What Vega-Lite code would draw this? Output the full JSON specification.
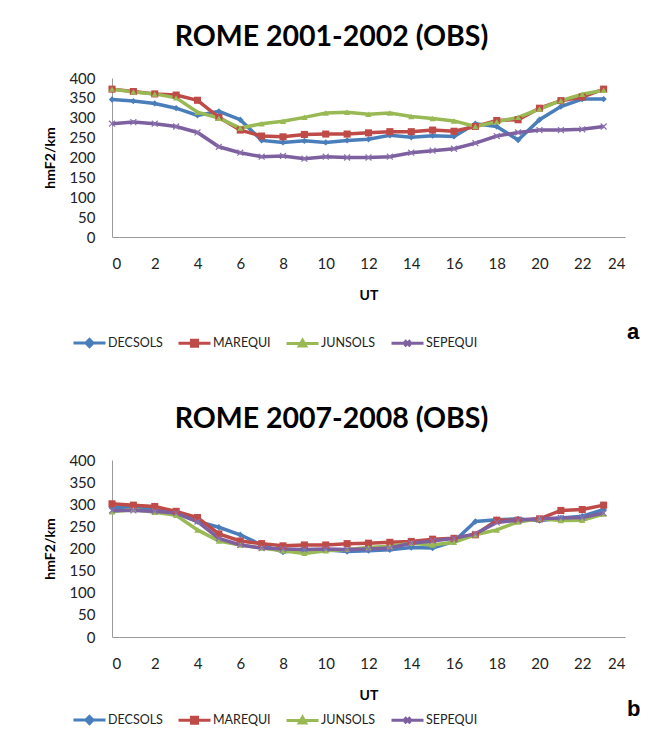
{
  "$schema": "https://vega.github.io/schema/vega-lite/v6.json",
  "background": "white",
  "padding": {"left": 43, "top": 22, "right": 5, "bottom": 5},
  "datasets": {
    "obs0102": [
      {"UT": 0, "DECSOLS": 346, "MAREQUI": 372, "JUNSOLS": 372, "SEPEQUI": 285},
      {"UT": 1, "DECSOLS": 342, "MAREQUI": 366, "JUNSOLS": 365, "SEPEQUI": 289},
      {"UT": 2, "DECSOLS": 336, "MAREQUI": 360, "JUNSOLS": 360, "SEPEQUI": 285},
      {"UT": 3, "DECSOLS": 324, "MAREQUI": 357, "JUNSOLS": 350, "SEPEQUI": 278},
      {"UT": 4, "DECSOLS": 306, "MAREQUI": 344, "JUNSOLS": 314, "SEPEQUI": 263},
      {"UT": 5, "DECSOLS": 316, "MAREQUI": 301, "JUNSOLS": 299, "SEPEQUI": 227},
      {"UT": 6, "DECSOLS": 295, "MAREQUI": 269, "JUNSOLS": 274, "SEPEQUI": 212},
      {"UT": 7, "DECSOLS": 243, "MAREQUI": 254, "JUNSOLS": 285, "SEPEQUI": 202},
      {"UT": 8, "DECSOLS": 238, "MAREQUI": 252, "JUNSOLS": 291, "SEPEQUI": 204},
      {"UT": 9, "DECSOLS": 242, "MAREQUI": 258, "JUNSOLS": 301, "SEPEQUI": 197},
      {"UT": 10, "DECSOLS": 238, "MAREQUI": 259, "JUNSOLS": 312, "SEPEQUI": 202},
      {"UT": 11, "DECSOLS": 243, "MAREQUI": 259, "JUNSOLS": 314, "SEPEQUI": 200},
      {"UT": 12, "DECSOLS": 246, "MAREQUI": 262, "JUNSOLS": 309, "SEPEQUI": 200},
      {"UT": 13, "DECSOLS": 256, "MAREQUI": 265, "JUNSOLS": 312, "SEPEQUI": 202},
      {"UT": 14, "DECSOLS": 251, "MAREQUI": 265, "JUNSOLS": 303, "SEPEQUI": 212},
      {"UT": 15, "DECSOLS": 255, "MAREQUI": 269, "JUNSOLS": 298, "SEPEQUI": 217},
      {"UT": 16, "DECSOLS": 253, "MAREQUI": 266, "JUNSOLS": 292, "SEPEQUI": 222},
      {"UT": 17, "DECSOLS": 285, "MAREQUI": 278, "JUNSOLS": 278, "SEPEQUI": 236},
      {"UT": 18, "DECSOLS": 278, "MAREQUI": 293, "JUNSOLS": 290, "SEPEQUI": 254},
      {"UT": 19, "DECSOLS": 244, "MAREQUI": 295, "JUNSOLS": 301, "SEPEQUI": 263},
      {"UT": 20, "DECSOLS": 295, "MAREQUI": 324, "JUNSOLS": 322, "SEPEQUI": 269},
      {"UT": 21, "DECSOLS": 328, "MAREQUI": 343, "JUNSOLS": 343, "SEPEQUI": 269},
      {"UT": 22, "DECSOLS": 347, "MAREQUI": 352, "JUNSOLS": 359, "SEPEQUI": 271},
      {"UT": 23, "DECSOLS": 347, "MAREQUI": 372, "JUNSOLS": 369, "SEPEQUI": 278}
    ],
    "obs0708": [
      {"UT": 0, "DECSOLS": 293, "MAREQUI": 301, "JUNSOLS": 283, "SEPEQUI": 286},
      {"UT": 1, "DECSOLS": 292, "MAREQUI": 298, "JUNSOLS": 288, "SEPEQUI": 286},
      {"UT": 2, "DECSOLS": 289, "MAREQUI": 295, "JUNSOLS": 282, "SEPEQUI": 284},
      {"UT": 3, "DECSOLS": 280, "MAREQUI": 284, "JUNSOLS": 275, "SEPEQUI": 280},
      {"UT": 4, "DECSOLS": 261, "MAREQUI": 270, "JUNSOLS": 242, "SEPEQUI": 261},
      {"UT": 5, "DECSOLS": 248, "MAREQUI": 233, "JUNSOLS": 217, "SEPEQUI": 223},
      {"UT": 6, "DECSOLS": 231, "MAREQUI": 217, "JUNSOLS": 208, "SEPEQUI": 208},
      {"UT": 7, "DECSOLS": 208, "MAREQUI": 211, "JUNSOLS": 201, "SEPEQUI": 201},
      {"UT": 8, "DECSOLS": 192, "MAREQUI": 206, "JUNSOLS": 195, "SEPEQUI": 199},
      {"UT": 9, "DECSOLS": 197, "MAREQUI": 208, "JUNSOLS": 189, "SEPEQUI": 198},
      {"UT": 10, "DECSOLS": 197, "MAREQUI": 208, "JUNSOLS": 195, "SEPEQUI": 199},
      {"UT": 11, "DECSOLS": 193, "MAREQUI": 211, "JUNSOLS": 198, "SEPEQUI": 198},
      {"UT": 12, "DECSOLS": 195, "MAREQUI": 212, "JUNSOLS": 202, "SEPEQUI": 199},
      {"UT": 13, "DECSOLS": 197, "MAREQUI": 214, "JUNSOLS": 205, "SEPEQUI": 201},
      {"UT": 14, "DECSOLS": 202, "MAREQUI": 216, "JUNSOLS": 212, "SEPEQUI": 212},
      {"UT": 15, "DECSOLS": 201, "MAREQUI": 221, "JUNSOLS": 208, "SEPEQUI": 217},
      {"UT": 16, "DECSOLS": 216, "MAREQUI": 223, "JUNSOLS": 214, "SEPEQUI": 223},
      {"UT": 17, "DECSOLS": 261, "MAREQUI": 231, "JUNSOLS": 231, "SEPEQUI": 233},
      {"UT": 18, "DECSOLS": 265, "MAREQUI": 264, "JUNSOLS": 242, "SEPEQUI": 259},
      {"UT": 19, "DECSOLS": 267, "MAREQUI": 264, "JUNSOLS": 260, "SEPEQUI": 264},
      {"UT": 20, "DECSOLS": 263, "MAREQUI": 267, "JUNSOLS": 267, "SEPEQUI": 267},
      {"UT": 21, "DECSOLS": 269, "MAREQUI": 286, "JUNSOLS": 263, "SEPEQUI": 269},
      {"UT": 22, "DECSOLS": 273, "MAREQUI": 288, "JUNSOLS": 264, "SEPEQUI": 270},
      {"UT": 23, "DECSOLS": 288, "MAREQUI": 298, "JUNSOLS": 278, "SEPEQUI": 280}
    ]
  },
  "config": {
    "font": "Lato",
    "view": {"stroke": null},
    "axis": {
      "grid": false,
      "ticks": false,
      "domainColor": "#9a9a9a",
      "domainWidth": 1,
      "labelFont": "Lato",
      "labelFontSize": 15,
      "labelColor": "#222222",
      "titleFont": "Lato",
      "titleFontSize": 14,
      "titleFontWeight": "bold",
      "titleColor": "#000000"
    },
    "title": {"font": "Lato", "fontSize": 28.5, "fontWeight": "bold", "color": "#000000", "anchor": "middle", "frame": "group", "dx": -37},
    "legend": {
      "labelFont": "Lato", "labelFontSize": 12.5, "labelColor": "#222222",
      "direction": "horizontal", "columns": 4, "columnPadding": 9,
      "symbolSize": 1024, "symbolStrokeWidth": 3, "symbolOffset": 0, "labelOffset": 1,
      "titleOrient": "right", "titleFontSize": 22, "titleFontWeight": "bold", "titleFont": "Liberation Sans",
      "titlePadding": 150, "titleColor": "#000000", "titleBaseline": "alphabetic",
      "orient": "none"
    },
    "point": {"filled": true, "opacity": 1, "size": 45, "strokeWidth": 1.2},
    "concat": {"spacing": 51}
  },
  "vconcat": [
    {
      "title": {"text": "ROME 2001-2002 (OBS)", "offset": 20},
      "width": 513,
      "height": 159,
      "data": {"name": "obs0102"},
      "transform": [{"fold": ["DECSOLS", "MAREQUI", "JUNSOLS", "SEPEQUI"], "as": ["series", "hmF2"]}],
      "encoding": {
        "x": {"field": "UT", "type": "quantitative", "scale": {"domain": [0, 24], "nice": false}, "axis": {"values": [0, 2, 4, 6, 8, 10, 12, 14, 16, 18, 20, 22, 24], "labelPadding": 19, "titlePadding": 17, "title": "UT"}},
        "y": {"field": "hmF2", "type": "quantitative", "scale": {"domain": [0, 400], "nice": false}, "axis": {"values": [0, 50, 100, 150, 200, 250, 300, 350, 400], "labelPadding": 17, "titlePadding": 11, "title": "hmF2/km"}}
      },
      "layer": [
        {"mark": {"type": "line", "strokeWidth": 3.5},
          "encoding": {
            "color": {"field": "series", "type": "nominal", "scale": {"domain": ["DECSOLS", "MAREQUI", "JUNSOLS", "SEPEQUI"], "range": ["#4A7EBB", "#BE4B48", "#98B954", "#7D60A0"]},
              "legend": {"legendX": -40, "legendY": 247, "title": "a",
                "encode": {"symbols": {"update": {
                  "shape": {"signal": "datum.value === 'DECSOLS' ? 'M-1,0H1M0,-0.22L0.22,0L0,0.22L-0.22,0Z' : datum.value === 'MAREQUI' ? 'M-1,0H1M-0.19,-0.19H0.19V0.19H-0.19Z' : datum.value === 'JUNSOLS' ? 'M-1,0H1M0,-0.2L0.2,0.16H-0.2Z' : 'M-1,0H1M-0.18,-0.18L0.18,0.18M0.18,-0.18L-0.18,0.18'"},
                  "stroke": {"signal": "datum.value === 'DECSOLS' ? '#4A7EBB' : datum.value === 'MAREQUI' ? '#BE4B48' : datum.value === 'JUNSOLS' ? '#98B954' : '#7D60A0'"},
                  "fill": {"signal": "datum.value === 'DECSOLS' ? '#4A7EBB' : datum.value === 'MAREQUI' ? '#BE4B48' : datum.value === 'JUNSOLS' ? '#98B954' : '#7D60A0'"},
                  "strokeWidth": {"value": 3},
                  "opacity": {"value": 1}
                }}}}}
          }
        },
        {"transform": [{"filter": "datum.series === 'DECSOLS'"}], "mark": {"type": "point", "shape": "diamond", "color": "#4A7EBB", "size": 40}},
        {"transform": [{"filter": "datum.series === 'MAREQUI'"}], "mark": {"type": "point", "shape": "square", "color": "#BE4B48", "size": 50}},
        {"transform": [{"filter": "datum.series === 'JUNSOLS'"}], "mark": {"type": "point", "shape": "triangle-up", "color": "#98B954", "size": 40}},
        {"transform": [{"filter": "datum.series === 'SEPEQUI'"}], "mark": {"type": "point", "shape": "M-1,-1L1,1M1,-1L-1,1", "filled": false, "color": "#8B70AE", "size": 35, "strokeWidth": 1.2}}
      ]
    },
    {
      "title": {"text": "ROME 2007-2008 (OBS)", "offset": 20},
      "width": 513,
      "height": 177,
      "data": {"name": "obs0708"},
      "transform": [{"fold": ["DECSOLS", "MAREQUI", "JUNSOLS", "SEPEQUI"], "as": ["series", "hmF2"]}],
      "encoding": {
        "x": {"field": "UT", "type": "quantitative", "scale": {"domain": [0, 24], "nice": false}, "axis": {"values": [0, 2, 4, 6, 8, 10, 12, 14, 16, 18, 20, 22, 24], "labelPadding": 19, "titlePadding": 17, "title": "UT"}},
        "y": {"field": "hmF2", "type": "quantitative", "scale": {"domain": [0, 400], "nice": false}, "axis": {"values": [0, 50, 100, 150, 200, 250, 300, 350, 400], "labelPadding": 17, "titlePadding": 11, "title": "hmF2/km"}}
      },
      "layer": [
        {"mark": {"type": "line", "strokeWidth": 3.5},
          "encoding": {
            "color": {"field": "series", "type": "nominal", "scale": {"domain": ["DECSOLS", "MAREQUI", "JUNSOLS", "SEPEQUI"], "range": ["#4A7EBB", "#BE4B48", "#98B954", "#7D60A0"]},
              "legend": {"legendX": -40, "legendY": 242, "title": "b",
                "encode": {"symbols": {"update": {
                  "shape": {"signal": "datum.value === 'DECSOLS' ? 'M-1,0H1M0,-0.22L0.22,0L0,0.22L-0.22,0Z' : datum.value === 'MAREQUI' ? 'M-1,0H1M-0.19,-0.19H0.19V0.19H-0.19Z' : datum.value === 'JUNSOLS' ? 'M-1,0H1M0,-0.2L0.2,0.16H-0.2Z' : 'M-1,0H1M-0.18,-0.18L0.18,0.18M0.18,-0.18L-0.18,0.18'"},
                  "stroke": {"signal": "datum.value === 'DECSOLS' ? '#4A7EBB' : datum.value === 'MAREQUI' ? '#BE4B48' : datum.value === 'JUNSOLS' ? '#98B954' : '#7D60A0'"},
                  "fill": {"signal": "datum.value === 'DECSOLS' ? '#4A7EBB' : datum.value === 'MAREQUI' ? '#BE4B48' : datum.value === 'JUNSOLS' ? '#98B954' : '#7D60A0'"},
                  "strokeWidth": {"value": 3},
                  "opacity": {"value": 1}
                }}}}}
          }
        },
        {"transform": [{"filter": "datum.series === 'DECSOLS'"}], "mark": {"type": "point", "shape": "diamond", "color": "#4A7EBB", "size": 40}},
        {"transform": [{"filter": "datum.series === 'MAREQUI'"}], "mark": {"type": "point", "shape": "square", "color": "#BE4B48", "size": 50}},
        {"transform": [{"filter": "datum.series === 'JUNSOLS'"}], "mark": {"type": "point", "shape": "triangle-up", "color": "#98B954", "size": 40}},
        {"transform": [{"filter": "datum.series === 'SEPEQUI'"}], "mark": {"type": "point", "shape": "M-1,-1L1,1M1,-1L-1,1", "filled": false, "color": "#8B70AE", "size": 35, "strokeWidth": 1.2}}
      ]
    }
  ],
  "resolve": {"scale": {"color": "independent"}}
}
